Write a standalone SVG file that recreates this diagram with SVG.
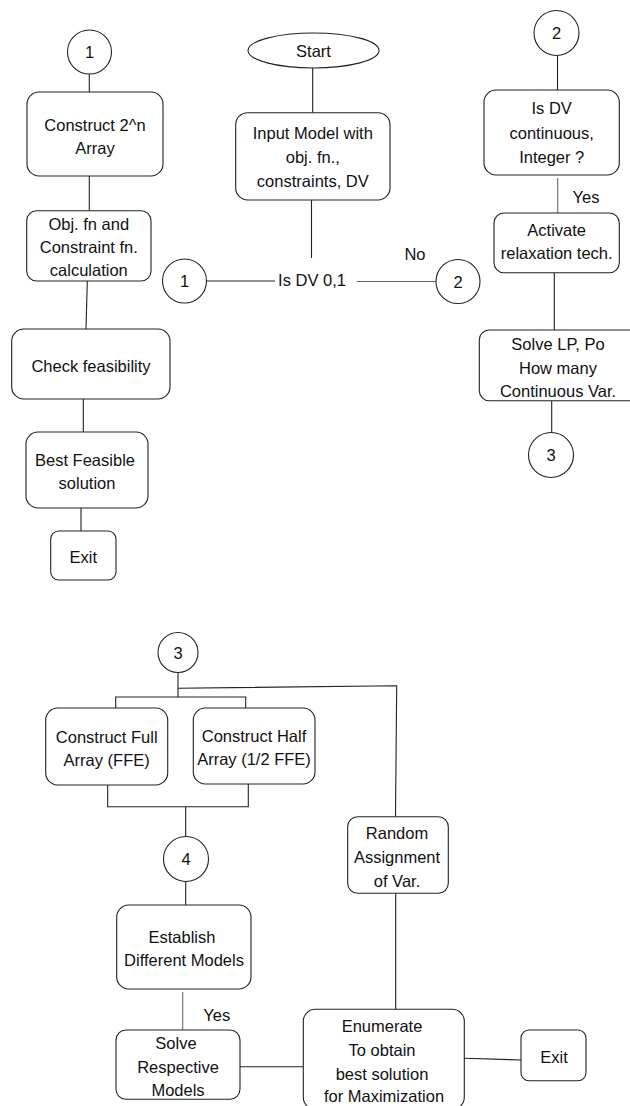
<svg xmlns="http://www.w3.org/2000/svg" width="630" height="1106" viewBox="0 0 630 1106">
<style>
.box{fill:#fff;stroke:#222;stroke-width:1.1}
.ln{fill:none;stroke:#222;stroke-width:1.1}
.gl{fill:none;stroke:#6a6a6a;stroke-width:1.1}
text{font-family:"Liberation Sans",Arial,sans-serif;font-size:16.5px;fill:#111;text-anchor:middle;dominant-baseline:central}
</style>
<rect width="630" height="1106" fill="#fff"/>
<g id="connectors">
<line class="ln" x1="89.3" y1="74" x2="89.3" y2="92"/>
<line class="ln" x1="89.3" y1="176" x2="89.3" y2="210.7"/>
<line class="ln" x1="87.3" y1="281" x2="86" y2="329"/>
<line class="ln" x1="83.3" y1="399" x2="83.3" y2="432"/>
<line class="ln" x1="81" y1="508" x2="81" y2="531"/>
<line class="ln" x1="312.7" y1="68" x2="312.7" y2="112.7"/>
<line class="ln" x1="311.5" y1="200" x2="311.5" y2="258"/>
<line class="ln" x1="206.5" y1="281" x2="275" y2="281"/>
<line class="gl" x1="356.7" y1="281.5" x2="436" y2="281.5"/>
<line class="ln" x1="557.5" y1="55.5" x2="557.5" y2="90"/>
<line class="gl" x1="557.7" y1="178" x2="557.7" y2="213"/>
<line class="ln" x1="554.3" y1="273" x2="554.3" y2="330"/>
<line class="ln" x1="551.7" y1="401" x2="551.7" y2="432.5"/>
<line class="ln" x1="178" y1="672.5" x2="178" y2="697"/>
<polyline class="ln" points="115.7,708 115.7,697 245.7,697 245.7,708"/>
<polyline class="ln" points="178,688.3 396.7,685.7 395.5,816.7"/>
<polyline class="ln" points="107.7,785 107.7,806.7 248.3,806.7 248.3,784"/>
<line class="ln" x1="185.7" y1="806.7" x2="185.7" y2="836.5"/>
<line class="ln" x1="185.7" y1="881.5" x2="185.7" y2="905"/>
<line class="gl" x1="182.7" y1="992" x2="182.7" y2="1030"/>
<line class="ln" x1="240" y1="1066.7" x2="303.3" y2="1066.7"/>
<line class="ln" x1="395.7" y1="893.3" x2="395.7" y2="1009.3"/>
<line class="ln" x1="464.3" y1="1058.3" x2="521" y2="1060"/>
</g>
<g id="c1a"><circle class="box" cx="89.5" cy="52" r="22"/><text x="89.5" y="52">1</text></g>
<g id="n_construct"><rect class="box" x="27" y="92" width="136" height="84" rx="12"/><text x="95" y="125">Construct 2^n</text><text x="95" y="148">Array</text></g>
<g id="n_obj"><rect class="box" x="26.7" y="210.7" width="124.3" height="70.3" rx="10"/><text x="88.8" y="224">Obj. fn and</text><text x="88.8" y="247">Constraint fn.</text><text x="88.8" y="270">calculation</text></g>
<g id="n_check"><rect class="box" x="11.7" y="329" width="158.3" height="70" rx="12"/><text x="91" y="366">Check feasibility</text></g>
<g id="n_best"><rect class="box" x="26" y="432" width="122" height="76" rx="12"/><text x="85" y="460">Best Feasible</text><text x="87" y="483">solution</text></g>
<g id="n_exit1"><rect class="box" x="50.7" y="531" width="65.3" height="49" rx="8"/><text x="83.3" y="557">Exit</text></g>
<g id="c1b"><circle class="box" cx="184.5" cy="281" r="22"/><text x="184.5" y="281">1</text></g>
<g id="start"><ellipse class="box" cx="313.5" cy="50.5" rx="65.5" ry="17.5"/><text x="313.5" y="50.5">Start</text></g>
<g id="n_input"><rect class="box" x="235.7" y="112.7" width="154.3" height="87.3" rx="12"/><text x="312.8" y="133">Input Model with</text><text x="312.8" y="157">obj. fn.,</text><text x="312.8" y="181">constraints, DV</text></g>
<g id="decision"><text x="312" y="279.5">Is DV 0,1</text><text x="415" y="253.5">No</text></g>
<g id="c2b"><circle class="box" cx="458" cy="281.5" r="22"/><text x="458" y="281.5">2</text></g>
<g id="c2a"><circle class="box" cx="556.5" cy="33" r="22.5"/><text x="556.5" y="33">2</text></g>
<g id="n_isdv"><rect class="box" x="484" y="90" width="135.3" height="85" rx="12"/><text x="551.7" y="108">Is DV</text><text x="551.7" y="133">continuous,</text><text x="551.7" y="157">Integer ?</text><text x="586" y="197">Yes</text></g>
<g id="n_activate"><rect class="box" x="494" y="213" width="125.3" height="59.7" rx="10"/><text x="556.7" y="230">Activate</text><text x="556.7" y="253">relaxation tech.</text></g>
<g id="n_solvelp"><rect class="box" x="479.3" y="330" width="160" height="70.7" rx="10"/><text x="558" y="344">Solve LP, Po</text><text x="558" y="368">How many</text><text x="558" y="391">Continuous Var.</text></g>
<g id="c3a"><circle class="box" cx="551" cy="455" r="22.5"/><text x="551" y="455">3</text></g>
<g id="c3b"><circle class="box" cx="178" cy="652.5" r="20"/><text x="178" y="652.5">3</text></g>
<g id="n_full"><rect class="box" x="45.7" y="708" width="122" height="77" rx="12"/><text x="106.7" y="737">Construct Full</text><text x="106.7" y="760">Array (FFE)</text></g>
<g id="n_half"><rect class="box" x="193.3" y="708" width="121.7" height="76" rx="12"/><text x="254" y="736">Construct Half</text><text x="254" y="759.3">Array (1/2 FFE)</text></g>
<g id="c4"><circle class="box" cx="186" cy="859" r="22.5"/><text x="186" y="859">4</text></g>
<g id="n_random"><rect class="box" x="347.7" y="816.7" width="100.6" height="76.6" rx="10"/><text x="397" y="833">Random</text><text x="397" y="857">Assignment</text><text x="397" y="880.5">of Var.</text></g>
<g id="n_establish"><rect class="box" x="116.7" y="905" width="134.3" height="84" rx="12"/><text x="182" y="937">Establish</text><text x="184" y="959.5">Different Models</text></g>
<g id="n_solveresp"><rect class="box" x="116" y="1030" width="124" height="69.3" rx="10"/><text x="216.7" y="1015">Yes</text><text x="176" y="1043">Solve</text><text x="178" y="1067">Respective</text><text x="178" y="1089.5">Models</text></g>
<g id="n_enum"><rect class="box" x="303.3" y="1009.3" width="161" height="100" rx="12"/><text x="382" y="1026">Enumerate</text><text x="382" y="1049.5">To obtain</text><text x="382" y="1073.5">best solution</text><text x="384" y="1096">for Maximization</text></g>
<g id="n_exit2"><rect class="box" x="521" y="1030" width="65" height="50.7" rx="8"/><text x="554" y="1057">Exit</text></g>
</svg>
